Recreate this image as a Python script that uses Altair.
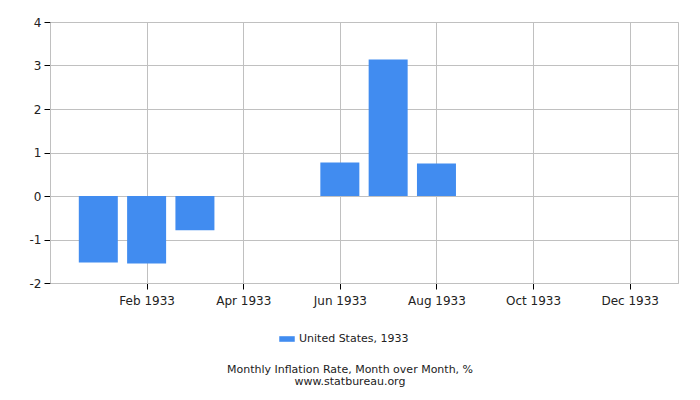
import altair as alt
import pandas as pd

month_labels = ["Jan 1933", "Feb 1933", "Mar 1933", "Apr 1933", "May 1933", "Jun 1933",
                "Jul 1933", "Aug 1933", "Sep 1933", "Oct 1933", "Nov 1933", "Dec 1933"]
bar_months = ["Jan 1933", "Feb 1933", "Mar 1933", "Apr 1933",
              "May 1933", "Jun 1933", "Jul 1933", "Aug 1933"]
values = [-1.53, -1.55, -0.79, 0.0, 0.0, 0.77, 3.14, 0.75]
series = ["United States, 1933"] * len(bar_months)
tick_months = ["Feb 1933", "Apr 1933", "Jun 1933", "Aug 1933", "Oct 1933", "Dec 1933"]
y_ticks = [-2, -1, 0, 1, 2, 3, 4]

df = pd.DataFrame({
    "idx": [month_labels.index(m) for m in bar_months],
    "month": bar_months,
    "value": values,
    "series": series,
})

label_array = "[" + ",".join("'" + m + "'" for m in month_labels) + "]"
font = "DejaVu Sans"

chart = alt.Chart(df).mark_bar(size=39).encode(
    x=alt.X("idx:Q",
            scale=alt.Scale(domain=[-1, 12], nice=False, zero=False, padding=0),
            axis=alt.Axis(values=[month_labels.index(m) for m in tick_months],
                          labelExpr=label_array + "[datum.value]", title=None,
                          labelFontSize=12, tickSize=6, labelPadding=6,
                          gridColor="#c0c0c0", domainColor="#c0c0c0",
                          tickColor="#000000", labelColor="#222222",
                          labelFont=font)),
    y=alt.Y("value:Q",
            scale=alt.Scale(domain=[-2, 4], nice=False, padding=0),
            axis=alt.Axis(values=y_ticks, title=None,
                          labelExpr="datum.value + ''",
                          labelFontSize=12, tickSize=6, labelPadding=3,
                          gridColor="#c0c0c0", domainColor="#c0c0c0",
                          tickColor="#000000", labelColor="#222222",
                          labelFont=font)),
    color=alt.Color("series:N",
                    scale=alt.Scale(range=["#418cf0"]),
                    legend=alt.Legend(title=None, orient="none",
                                      legendX=229, legendY=309,
                                      symbolType="M-1,-0.36L1,-0.36L1,0.36L-1,0.36Z",
                                      symbolSize=240, symbolStrokeWidth=0,
                                      labelFontSize=11, labelFont=font,
                                      labelColor="#222222")),
    tooltip=["month:N", "value:Q"],
).properties(
    width=628,
    height=261,
    title=alt.TitleParams(["Monthly Inflation Rate, Month over Month, %", "www.statbureau.org"],
                          orient="bottom", anchor="middle", fontSize=11,
                          fontWeight="normal", font=font, color="#222222",
                          offset=20, dx=-14, lineHeight=12),
    autosize=alt.AutoSizeParams(type="none"),
    padding={"left": 42, "top": 14, "right": 14, "bottom": 109},
).configure_view(stroke="#c0c0c0")

chart.save("out.html", embed_options={"renderer": "svg", "actions": False})
